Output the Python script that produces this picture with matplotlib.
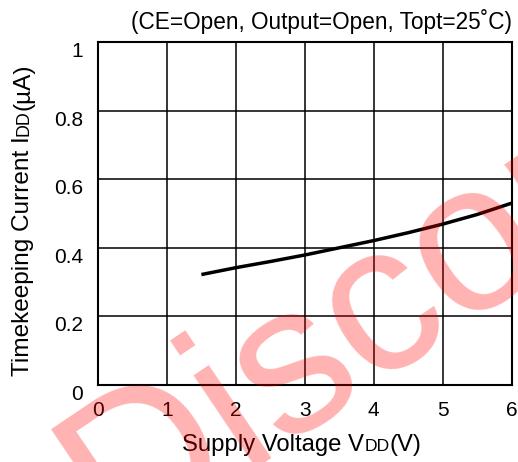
import matplotlib
matplotlib.use("Agg")
from matplotlib import pyplot as plt
from matplotlib.transforms import IdentityTransform

plt.rcParams['font.family'] = ['Liberation Sans', 'DejaVu Sans']

# supply voltage (V) vs timekeeping current (uA)
vdd = [1.5, 2.0, 2.5, 3.0, 3.5, 4.0, 4.5, 5.0, 5.5, 6.0]
idd = [0.322, 0.342, 0.360, 0.379, 0.400, 0.421, 0.444, 0.469, 0.497, 0.530]

xticks = [0, 1, 2, 3, 4, 5, 6]
yticks = [0, 0.2, 0.4, 0.6, 0.8, 1.0]
ytick_labels = ["0", "0.2", "0.4", "0.6", "0.8", "1"]

cond_text = "(CE=Open, Output=Open, Topt=25\u02daC)"
xlabel_parts = [("Supply Voltage V", 17.2), ("DD", 12.6), ("(V)", 17.2)]
ylabel_parts = [("Timekeeping Current I", 17.6), ("DD", 12.9), ("(\u00b5A)", 17.6)]


def place_parts(fig, parts, x0, y0, rot, center):
	# lay text pieces one after another along the baseline, in pixels
	r = fig.canvas.get_renderer()
	texts = []
	for s, sz in parts:
		t = fig.text(0, 0, s, fontsize=sz, transform=IdentityTransform(),
			rotation=rot, rotation_mode="anchor", ha="left", va="baseline")
		texts.append(t)
	lens = []
	for t in texts:
		bb = t.get_window_extent(r)
		lens.append(bb.height if rot else bb.width)
	pos = center - sum(lens) / 2.0
	for t, l in zip(texts, lens):
		if rot:
			t.set_position((x0, pos))
		else:
			t.set_position((pos, y0))
		pos += l


def main():
	W, H = 518, 462
	f = plt.figure(figsize=(W / 100.0, H / 100.0), dpi=100)
	ax = f.add_axes([98.0 / W, 1 - 385.0 / H, 413.5 / W, 343.0 / H])

	ax.plot(vdd, idd, color="black", lw=2.5, solid_capstyle="butt")

	ax.set_xlim(0, 6)
	ax.set_ylim(0, 1)
	ax.set_xticks(xticks)
	ax.set_yticks(yticks)
	ax.set_yticklabels(ytick_labels)
	ax.grid(True, color="black", lw=1.1)
	for sp in ax.spines.values():
		sp.set_linewidth(1.5)
	ax.tick_params(axis="x", length=0, pad=11.5, labelsize=15)
	ax.tick_params(axis="y", length=0, pad=10.8, labelsize=15)
	for lab in ax.get_yticklabels():
		lab.set_verticalalignment("top")

	ax.annotate(cond_text, xy=(1, 1), xycoords="axes fraction",
		xytext=(0, 9.4), textcoords="offset points",
		ha="right", va="baseline", fontsize=16.3)

	place_parts(f, xlabel_parts, 0, H - 451, 0, 302)
	place_parts(f, ylabel_parts, 29, 0, 90, H - 219.5)

	# red overlay stamp
	f.text(116.0 / W, -88.0 / H, "Discontinued", fontsize=152, color="red",
		alpha=0.3, rotation=34, rotation_mode="anchor",
		ha="left", va="baseline", zorder=10)

	f.savefig("out.png", dpi=100)


if __name__ == '__main__':
	main()
